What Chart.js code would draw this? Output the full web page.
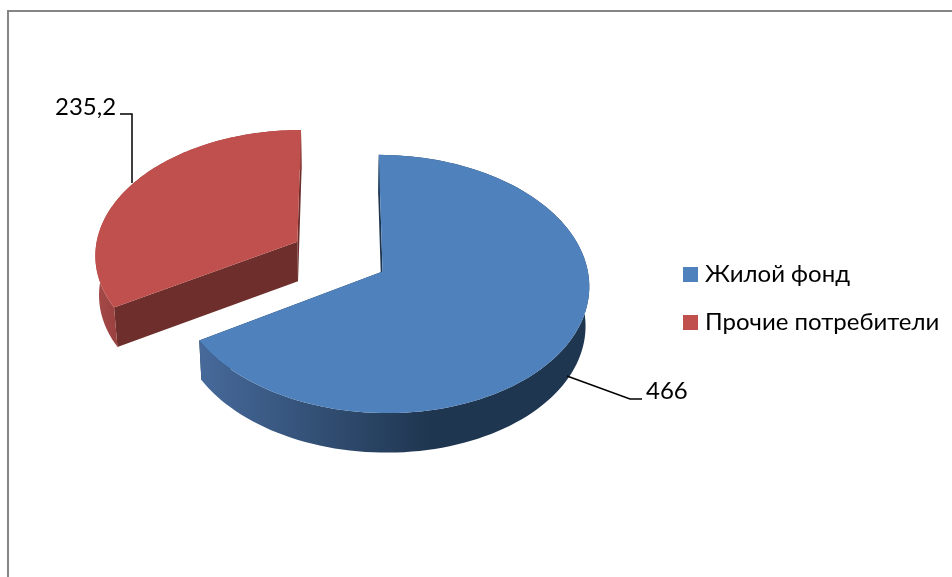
<!DOCTYPE html>
<html>
<head>
<meta charset="utf-8">
<title>Pie</title>
<script src="https://cdn.jsdelivr.net/npm/chart.js@4/dist/chart.umd.min.js"></script>
<style>
html, body { margin: 0; padding: 0; background: #fff; }
canvas { display: block; }
</style>
</head>
<body>
<canvas id="chart-area" width="952" height="577"></canvas>
<script>
var categories = ["Жилой фонд", "Прочие потребители"];
var values = [466, 235.2];
var valueLabels = ["466", "235,2"];

var topColors = ["#4F81BD", "#C0504D"];
var cutColors = ["#1F3650", "#6E2E2C"];
var rimColors = [["#46699A", "#1F3650"], ["#A54A48", "#98403E"]];

var fontFamily = 'Lato, "Open Sans", sans-serif';

// screen centre, tilt and perspective of the tilted pie
var view = { x: 339.5, y: 256.5, tilt: 0.616, persp: 0.095, depth: 39.5, bottomScale: 0.985, bottomX: 340 };

function project(arc, u, v) {
	var R = arc.outerRadius;
	var mid = (arc.startAngle + arc.endAngle) / 2;
	var off = arc.options.offset / R;
	var pu = u + Math.cos(mid) * off;
	var pv = v + Math.sin(mid) * off;
	var k = 1 - view.persp * pv;
	return { x: view.x + R * pu / k, y: view.y + R * view.tilt * pv / k };
}

function rimPoints(arc) {
	var pts = [];
	var steps = 120;
	for (var i = 0; i <= steps; i++) {
		var a = arc.startAngle + (arc.endAngle - arc.startAngle) * i / steps;
		pts.push(project(arc, Math.cos(a), Math.sin(a)));
	}
	return pts;
}

function fillPoly(ctx, pts, fill) {
	ctx.beginPath();
	pts.forEach(function(p, i) {
		if (i === 0) ctx.moveTo(p.x, p.y);
		else ctx.lineTo(p.x, p.y);
	});
	ctx.closePath();
	ctx.fillStyle = fill;
	ctx.fill();
}

// the lower edge sits a little further away, so it is slightly narrower
function extrude(pts) {
	var down = pts.slice().reverse().map(function(p) {
		return { x: view.bottomX + (p.x - view.bottomX) * view.bottomScale, y: p.y + view.depth };
	});
	return pts.concat(down);
}

function drawSlice(ctx, arc, index) {
	var apex = project(arc, 0, 0);
	var rim = rimPoints(arc);
	// cut faces
	fillPoly(ctx, extrude([apex, rim[0]]), cutColors[index]);
	fillPoly(ctx, extrude([apex, rim[rim.length - 1]]), cutColors[index]);
	// outer wall
	var grad = ctx.createLinearGradient(index === 0 ? 203 : 95, 0, index === 0 ? 430 : 120, 0);
	grad.addColorStop(0, rimColors[index][0]);
	grad.addColorStop(1, rimColors[index][1]);
	fillPoly(ctx, extrude(rim), grad);
	// top face
	fillPoly(ctx, [apex].concat(rim), arc.options.backgroundColor);
}

function leader(ctx, pts) {
	ctx.beginPath();
	pts.forEach(function(p, i) {
		if (i === 0) ctx.moveTo(p[0], p[1]);
		else ctx.lineTo(p[0], p[1]);
	});
	ctx.lineWidth = 1.5;
	ctx.strokeStyle = "#000";
	ctx.stroke();
}

var tiltedPie = {
	id: "tiltedPie",
	beforeDraw: function(chart) {
		var ctx = chart.ctx;
		ctx.save();
		ctx.fillStyle = "#fff";
		ctx.fillRect(0, 0, chart.width, chart.height);
		// frame, cropped on the right and at the bottom
		ctx.strokeStyle = "#868686";
		ctx.lineWidth = 2;
		ctx.beginPath();
		ctx.moveTo(8, chart.height);
		ctx.lineTo(8, 11);
		ctx.lineTo(chart.width, 11);
		ctx.stroke();
		ctx.restore();
	},
	beforeDatasetsDraw: function(chart) {
		var ctx = chart.ctx;
		var arcs = chart.getDatasetMeta(0).data;
		ctx.save();
		drawSlice(ctx, arcs[1], 1);
		drawSlice(ctx, arcs[0], 0);

		leader(ctx, [[567, 376], [630, 399], [642, 399]]);
		leader(ctx, [[120, 114], [132, 114], [132, 183]]);

		ctx.fillStyle = "#000";
		ctx.font = "24px " + fontFamily;
		ctx.textBaseline = "alphabetic";
		ctx.textAlign = "left";
		ctx.fillText(valueLabels[0], 646, 399);
		ctx.fillText(valueLabels[1], 55, 115);

		// legend
		categories.forEach(function(name, i) {
			var y = 267 + i * 48;
			ctx.fillStyle = topColors[i];
			ctx.fillRect(683, y, 15, 15);
			ctx.fillStyle = "#000";
			ctx.fillText(name, 705, y + 15);
		});
		ctx.restore();
		return false;
	}
};

var config = {
	type: "pie",
	data: {
		labels: categories,
		datasets: [{
			data: values,
			backgroundColor: topColors,
			borderWidth: 0,
			offset: 49,
			hoverOffset: 49,
			clip: false
		}]
	},
	options: {
		responsive: false,
		animation: false,
		radius: 203,
		rotation: 0,
		events: [],
		plugins: {
			legend: { display: false },
			tooltip: { enabled: false }
		}
	},
	plugins: [tiltedPie]
};

window.onload = function() {
	var ctx = document.getElementById("chart-area").getContext("2d");
	window.myPie = new Chart(ctx, config);
};
</script>
</body>
</html>
